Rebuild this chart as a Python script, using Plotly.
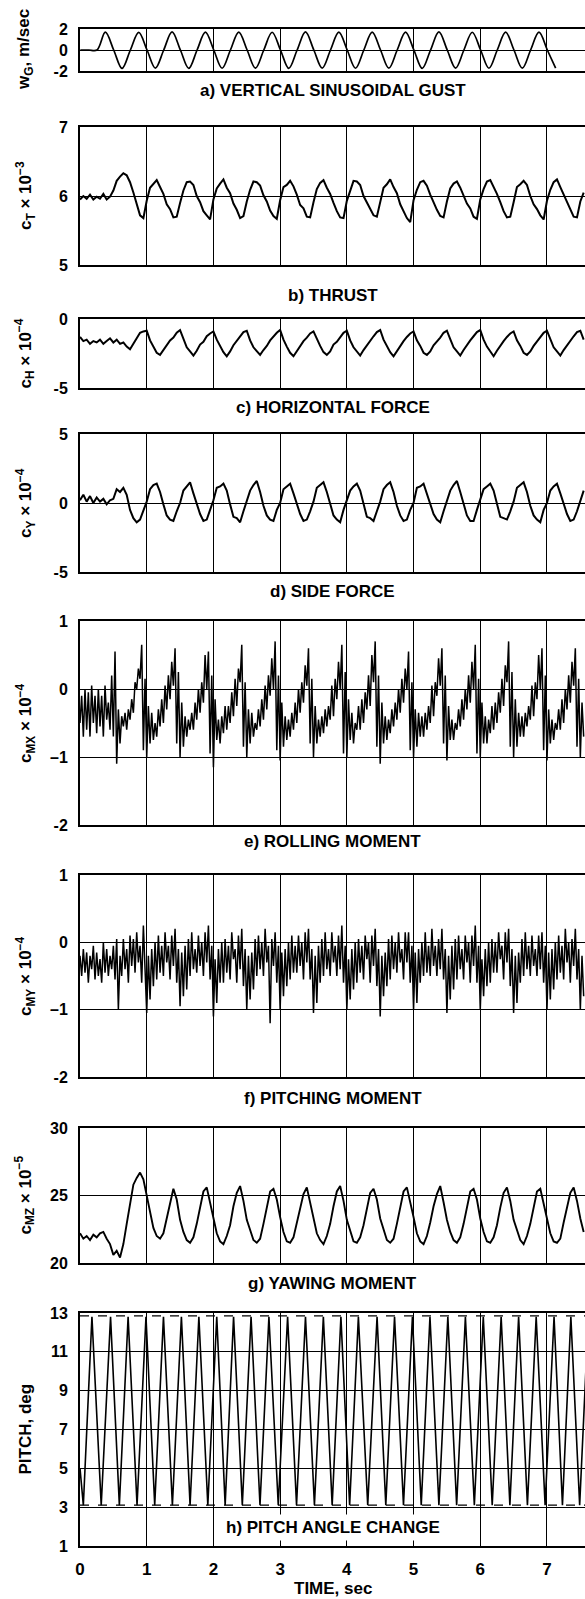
import numpy as np
import plotly.graph_objects as go

# ---------------- DATA ----------------
T_MAX = 7.57
DT_GUST = 0.125          # gust sampled every quarter period
GUST_T0 = 0.005
gust_w = [0, 0,
          0, 1.70, 0, -1.75, 0, 1.68, 0, -1.72, 0, 1.72, 0, -1.75, 0, 1.70, 0, -1.74,
          0, 1.71, 0, -1.73, 0, 1.69, 0, -1.75, 0, 1.72, 0, -1.72, 0, 1.70, 0, -1.74,
          0, 1.71, 0, -1.73, 0, 1.70, 0, -1.75, 0, 1.72, 0, -1.72, 0, 1.69, 0, -1.74,
          0, 1.71, 0, -1.73, 0, 1.70, 0, -1.72]

DT_MED = 0.05
ct_pre = [5.95, 6.00, 5.96, 6.02, 5.95, 5.99, 5.96, 6.03, 5.95, 5.99,
          6.08, 6.22, 6.28, 6.33, 6.30, 6.20, 6.05, 5.90, 5.72, 5.68]
ct_cycles = [
    [5.93, 6.12, 6.17, 6.23, 6.13, 6.03, 5.88, 5.81, 5.69, 5.70],
    [5.90, 6.08, 6.20, 6.21, 6.16, 6.00, 5.91, 5.78, 5.72, 5.66],
    [5.95, 6.11, 6.18, 6.24, 6.12, 6.04, 5.89, 5.80, 5.68, 5.71],
    [5.92, 6.09, 6.21, 6.20, 6.15, 6.01, 5.92, 5.79, 5.71, 5.67],
    [5.94, 6.13, 6.16, 6.22, 6.14, 6.02, 5.87, 5.82, 5.70, 5.69],
    [5.91, 6.10, 6.19, 6.23, 6.12, 6.03, 5.90, 5.78, 5.69, 5.68],
    [5.93, 6.08, 6.22, 6.21, 6.16, 6.00, 5.91, 5.81, 5.72, 5.70],
    [5.90, 6.12, 6.17, 6.24, 6.13, 6.04, 5.88, 5.79, 5.68, 5.62],
    [5.94, 6.09, 6.20, 6.22, 6.15, 6.02, 5.90, 5.80, 5.71, 5.69],
    [5.92, 6.11, 6.18, 6.21, 6.12, 6.01, 5.89, 5.82, 5.70, 5.67],
    [5.95, 6.10, 6.21, 6.23, 6.14, 6.03, 5.91, 5.78, 5.69, 5.70],
    [5.91, 6.13, 6.17, 6.22, 6.16, 6.00, 5.88, 5.81, 5.72, 5.66],
    [5.93, 6.09, 6.20, 6.24, 6.13, 6.02, 5.90, 5.79, 5.70, 5.69]]
ct_end = [5.92, 6.05]

ch_pre = [-1.3, -1.6, -1.5, -1.8, -1.6, -1.7, -1.5, -1.8, -1.6, -1.4,
          -1.7, -1.5, -1.8, -1.7, -2.0, -2.2, -1.8, -1.4, -1.0, -0.9]
ch_cycles = [
    [-0.85, -1.55, -2.0, -2.45, -2.6, -2.25, -1.95, -1.55, -1.35, -1.0],
    [-0.8, -1.45, -2.05, -2.35, -2.65, -2.3, -1.85, -1.65, -1.25, -1.05],
    [-0.9, -1.5, -1.95, -2.4, -2.7, -2.35, -1.9, -1.6, -1.3, -0.95],
    [-0.85, -1.55, -2.05, -2.3, -2.6, -2.25, -1.95, -1.55, -1.25, -1.0],
    [-0.8, -1.5, -2.0, -2.45, -2.7, -2.3, -1.9, -1.6, -1.35, -1.05],
    [-0.9, -1.45, -1.95, -2.4, -2.6, -2.35, -1.85, -1.65, -1.3, -1.0],
    [-0.85, -1.55, -2.05, -2.35, -2.65, -2.25, -1.9, -1.55, -1.25, -0.95],
    [-0.8, -1.5, -2.0, -2.4, -2.7, -2.3, -1.95, -1.6, -1.3, -1.05],
    [-0.9, -1.55, -1.95, -2.45, -2.6, -2.35, -1.9, -1.65, -1.35, -1.0],
    [-0.85, -1.45, -2.05, -2.35, -2.65, -2.25, -1.85, -1.55, -1.25, -0.95],
    [-0.8, -1.5, -2.0, -2.4, -2.7, -2.3, -1.9, -1.6, -1.3, -1.05],
    [-0.9, -1.55, -1.95, -2.45, -2.6, -2.35, -1.95, -1.65, -1.35, -1.0],
    [-0.85, -1.5, -2.05, -2.35, -2.65, -2.25, -1.9, -1.55, -1.25, -0.95]]
ch_end = [-0.85, -1.5]

cy_pre = [0.2, 0.6, 0.1, 0.5, 0.0, 0.4, 0.1, 0.3, -0.1, 0.2,
          0.3, 1.0, 0.8, 1.1, 0.6, -0.5, -1.1, -1.4, -1.2, -0.6]
cy_cycles = [
    [0.1, 1.0, 1.3, 1.4, 0.8, -0.1, -0.9, -1.2, -1.3, -0.6],
    [0.0, 0.9, 1.2, 1.5, 0.7, 0.0, -0.8, -1.3, -1.2, -0.5],
    [0.2, 1.1, 1.2, 1.4, 0.9, -0.1, -1.0, -1.1, -1.4, -0.6],
    [0.1, 0.9, 1.3, 1.6, 0.8, -0.2, -0.9, -1.2, -1.3, -0.5],
    [0.0, 1.0, 1.2, 1.4, 0.7, 0.0, -0.8, -1.3, -1.2, -0.6],
    [0.1, 1.1, 1.3, 1.5, 0.8, -0.1, -0.9, -1.2, -1.4, -0.5],
    [0.2, 0.9, 1.2, 1.4, 0.9, -0.1, -1.0, -1.1, -1.3, -0.6],
    [0.1, 1.0, 1.3, 1.5, 0.8, -0.2, -0.9, -1.3, -1.2, -0.5],
    [0.0, 1.1, 1.2, 1.4, 0.7, 0.0, -0.8, -1.2, -1.4, -0.6],
    [0.1, 0.9, 1.3, 1.6, 0.8, -0.1, -0.9, -1.3, -1.3, -0.5],
    [0.2, 1.0, 1.2, 1.4, 0.9, -0.1, -1.0, -1.1, -1.2, -0.6],
    [0.1, 1.1, 1.3, 1.5, 0.8, -0.2, -0.9, -1.2, -1.4, -0.5],
    [0.0, 0.9, 1.2, 1.4, 0.7, 0.0, -0.8, -1.3, -1.2, -0.6]]
cy_end = [0.1, 0.9]

cmz_pre = [22.2, 21.8, 22.0, 21.7, 22.1, 21.9, 22.2, 22.3, 21.8, 21.4,
           20.6, 20.9, 20.4, 21.4, 22.9, 24.5, 25.8, 26.3,
           26.7, 26.2, 25.0, 23.6, 22.6, 22.0, 21.8, 22.2, 23.3, 24.5]
cmz_cycles = [
    [25.5, 24.7, 23.2, 22.3, 21.7, 21.5, 21.9, 22.9, 24.1, 25.3],
    [25.6, 24.5, 23.3, 22.2, 21.6, 21.4, 22.0, 22.8, 24.2, 25.2],
    [25.7, 24.6, 23.2, 22.4, 21.7, 21.5, 21.8, 22.9, 24.0, 25.3],
    [25.5, 24.7, 23.4, 22.3, 21.6, 21.5, 21.9, 23.0, 24.1, 25.1],
    [25.6, 24.5, 23.3, 22.2, 21.7, 21.4, 22.0, 22.9, 24.2, 25.3],
    [25.7, 24.6, 23.2, 22.3, 21.6, 21.5, 21.9, 22.8, 24.0, 25.2],
    [25.5, 24.7, 23.3, 22.4, 21.7, 21.5, 21.8, 22.9, 24.1, 25.3],
    [25.6, 24.6, 23.4, 22.2, 21.6, 21.4, 22.0, 23.0, 24.2, 25.1],
    [25.7, 24.5, 23.2, 22.3, 21.7, 21.5, 21.9, 22.9, 24.0, 25.3],
    [25.5, 24.7, 23.3, 22.3, 21.6, 21.5, 21.9, 22.8, 24.1, 25.2],
    [25.6, 24.6, 23.2, 22.4, 21.7, 21.4, 22.0, 22.9, 24.2, 25.3],
    [25.5, 24.5, 23.3, 22.2, 21.6, 21.5, 21.8, 23.0, 24.1, 25.2]]
cmz_end = [25.6, 24.6, 23.3, 22.3]

DT_FINE = 0.025
cmx_pre = [-0.5, -0.1, -0.7, 0.0, -0.6, -0.05, -0.7, 0.05, -0.5, -0.1,
           -0.65, 0.0, -0.55, -0.1, -0.7, 0.05, -0.45, -0.2, -0.6, 0.2,
           -0.7, 0.55, -1.1, -0.3, -0.8, -0.4, -0.55, -0.35, -0.6, -0.3,
           -0.45, -0.15, -0.35, 0.1, 0.0, 0.3, 0.15]
cmx_cycles = [
    [0.65, -0.9, 0.15, -1.0, -0.25, -0.8, -0.35, -0.75, -0.5, -0.7, -0.3, -0.55, -0.15, -0.5, 0.05, -0.3, 0.2, -0.15, 0.4, 0.05],
    [0.6, -0.8, 0.25, -1.0, -0.2, -0.85, -0.4, -0.7, -0.45, -0.6, -0.35, -0.6, -0.2, -0.45, 0.0, -0.35, 0.1, -0.2, 0.5, 0.0],
    [0.55, -0.95, 0.2, -1.15, -0.15, -0.75, -0.45, -0.8, -0.4, -0.65, -0.25, -0.6, -0.25, -0.5, -0.05, -0.4, 0.15, -0.25, 0.3, 0.1],
    [0.65, -0.85, 0.1, -1.0, -0.3, -0.8, -0.35, -0.7, -0.5, -0.6, -0.3, -0.55, -0.15, -0.45, 0.05, -0.3, 0.2, -0.1, 0.45, 0.0],
    [0.7, -0.9, 0.2, -1.05, -0.2, -0.85, -0.4, -0.75, -0.45, -0.7, -0.35, -0.6, -0.2, -0.5, 0.0, -0.35, 0.1, -0.2, 0.35, 0.05],
    [0.6, -0.8, 0.15, -1.0, -0.25, -0.8, -0.45, -0.7, -0.4, -0.65, -0.3, -0.55, -0.25, -0.45, 0.05, -0.4, 0.15, -0.15, 0.4, 0.0],
    [0.65, -0.95, 0.25, -1.0, -0.15, -0.75, -0.35, -0.8, -0.5, -0.6, -0.25, -0.6, -0.15, -0.5, -0.05, -0.3, 0.2, -0.25, 0.5, 0.1],
    [0.7, -0.85, 0.2, -1.1, -0.2, -0.8, -0.4, -0.75, -0.45, -0.65, -0.3, -0.55, -0.2, -0.45, 0.0, -0.35, 0.15, -0.2, 0.3, 0.0],
    [0.55, -0.9, 0.1, -1.0, -0.3, -0.85, -0.35, -0.7, -0.4, -0.7, -0.35, -0.6, -0.25, -0.5, 0.05, -0.4, 0.1, -0.1, 0.45, 0.05],
    [0.6, -0.8, 0.2, -1.05, -0.25, -0.75, -0.45, -0.75, -0.5, -0.6, -0.3, -0.55, -0.15, -0.45, 0.0, -0.3, 0.2, -0.2, 0.4, 0.0],
    [0.65, -0.95, 0.15, -1.0, -0.2, -0.8, -0.4, -0.8, -0.45, -0.65, -0.25, -0.6, -0.2, -0.5, -0.05, -0.35, 0.15, -0.25, 0.35, 0.1],
    [0.7, -0.85, 0.25, -1.0, -0.15, -0.85, -0.35, -0.7, -0.4, -0.7, -0.35, -0.55, -0.25, -0.45, 0.05, -0.4, 0.1, -0.15, 0.5, 0.0],
    [0.6, -0.9, 0.2, -1.05, -0.3, -0.8, -0.45, -0.75, -0.5, -0.6, -0.3, -0.6, -0.15, -0.5, 0.0, -0.3, 0.2, -0.2, 0.4, 0.05]]
cmx_end = [0.6, -0.85, 0.15, -1.0, -0.2, -0.7]

cmy_pre = [-0.2, -0.5, -0.1, -0.45, -0.15, -0.6, -0.2, -0.4, -0.05, -0.55,
           -0.15, -0.5, -0.25, -0.6, 0.0, -0.45, -0.1, -0.5, -0.2, -0.4,
           -0.05, -0.55, 0.05, -1.0, -0.2, -0.5, 0.05, -0.4, -0.1, -0.6,
           0.1, -0.35, 0.05, -0.45, 0.15, -0.3, -0.05, -0.6, 0.25, -0.4]
cmy_cycles = [
    [-1.05, -0.2, -0.85, -0.1, -0.65, 0.0, -0.55, 0.1, -0.45, -0.05, -0.5, 0.15, -0.3, -0.05, -0.55, 0.1, -0.35, 0.2, -0.6, -0.1],
    [-0.95, -0.15, -0.8, -0.05, -0.7, 0.05, -0.5, 0.15, -0.4, -0.1, -0.45, 0.1, -0.35, 0.0, -0.5, 0.15, -0.3, 0.25, -0.55, -0.05],
    [-1.1, -0.25, -0.9, -0.1, -0.6, 0.0, -0.6, 0.05, -0.45, -0.05, -0.55, 0.15, -0.25, -0.1, -0.6, 0.1, -0.4, 0.2, -0.65, -0.1],
    [-1.0, -0.2, -0.85, -0.15, -0.7, 0.05, -0.5, 0.1, -0.4, 0.0, -0.5, 0.2, -0.3, -0.05, -1.2, 0.05, -0.35, 0.15, -0.6, -0.05],
    [-1.0, -0.15, -0.8, -0.1, -0.65, 0.0, -0.55, 0.1, -0.45, -0.05, -0.45, 0.1, -0.35, 0.0, -0.55, 0.15, -0.3, 0.2, -0.55, -0.1],
    [-1.05, -0.2, -0.9, -0.05, -0.6, 0.05, -0.5, 0.15, -0.4, -0.1, -0.5, 0.15, -0.3, -0.05, -0.5, 0.1, -0.4, 0.25, -0.6, -0.05],
    [-1.0, -0.25, -0.85, -0.1, -0.7, 0.0, -0.6, 0.05, -0.45, -0.05, -0.55, 0.1, -0.25, 0.0, -0.6, 0.1, -0.35, 0.2, -0.65, -0.1],
    [-1.1, -0.2, -0.8, -0.15, -0.65, 0.05, -0.55, 0.1, -0.4, 0.0, -0.45, 0.15, -0.3, -0.1, -0.55, 0.15, -0.3, 0.15, -0.6, -0.05],
    [-1.0, -0.15, -0.9, -0.1, -0.6, 0.0, -0.5, 0.15, -0.45, -0.05, -0.5, 0.2, -0.35, -0.05, -0.5, 0.05, -0.4, 0.2, -0.55, -0.1],
    [-1.05, -0.2, -0.85, -0.05, -0.7, 0.05, -0.55, 0.1, -0.4, -0.1, -0.55, 0.1, -0.3, 0.0, -0.6, 0.1, -0.35, 0.25, -0.6, -0.05],
    [-1.0, -0.25, -0.8, -0.1, -0.65, 0.0, -0.6, 0.05, -0.45, 0.0, -0.45, 0.15, -0.25, -0.05, -0.55, 0.15, -0.3, 0.2, -0.65, -0.1],
    [-1.05, -0.2, -0.9, -0.15, -0.6, 0.05, -0.5, 0.15, -0.4, -0.05, -0.5, 0.1, -0.35, -0.1, -0.5, 0.1, -0.4, 0.15, -0.6, -0.05],
    [-1.0, -0.15, -0.85, -0.1, -0.7, 0.0, -0.55, 0.1, -0.45, -0.05, -0.55, 0.2, -0.3, 0.0, -0.6, 0.05, -0.35, 0.2, -0.55, -0.1]]
cmy_end = [-1.0, -0.2, -0.8]

pitch_t = [0.0, 0.05, 0.179, 0.318, 0.458, 0.59, 0.721, 0.855, 0.989, 1.12,
           1.251, 1.385, 1.520, 1.65, 1.782, 1.916, 2.050, 2.176, 2.302, 2.433,
           2.564, 2.698, 2.832, 2.972, 3.112, 3.246, 3.380, 3.514, 3.648, 3.78,
           3.911, 4.042, 4.173, 4.313, 4.453, 4.584, 4.715, 4.849, 4.983, 5.115,
           5.246, 5.38, 5.514, 5.646, 5.777, 5.911, 6.045, 6.179, 6.313, 6.444,
           6.575, 6.707, 6.838, 6.972, 7.106, 7.232, 7.358, 7.49, 7.6]
pitch_deg = [5.0, 3.1, 12.8, 3.1, 12.8, 3.1, 12.8, 3.1, 12.8, 3.1,
             12.8, 3.1, 12.8, 3.1, 12.8, 3.1, 12.8, 3.1, 12.8, 3.1,
             12.8, 3.1, 12.8, 3.1, 12.8, 3.1, 12.8, 3.1, 12.8, 3.1,
             12.8, 3.1, 12.8, 3.1, 12.8, 3.1, 12.8, 3.1, 12.8, 3.1,
             12.8, 3.1, 12.8, 3.1, 12.8, 3.1, 12.8, 3.1, 12.8, 3.1,
             12.8, 3.1, 12.8, 3.1, 12.8, 3.1, 12.8, 3.1, 11.3]
pitch_limits = [3.1, 12.85]

x_ticks = [0, 1, 2, 3, 4, 5, 6, 7]

# ---------------- assemble series ----------------
def join(pre, cycles, end):
    out = list(pre)
    for c in cycles:
        out += c
    return out + list(end)

ct = join(ct_pre, ct_cycles, ct_end)
ch = join(ch_pre, ch_cycles, ch_end)
cy = join(cy_pre, cy_cycles, cy_end)
cmz = join(cmz_pre, cmz_cycles, cmz_end)
cmx = join(cmx_pre, cmx_cycles, cmx_end)
cmy = join(cmy_pre, cmy_cycles, cmy_end)

def tgrid(n, dt, t0=0.0):
    return np.round(t0 + np.arange(n) * dt, 4)

W, H = 585, 1599
LM = 80
FONT = "Liberation Sans"

def py(px):
    return 1 - px / H

# panel: (x, y, shape, width, top_px, bottom_px, range, tickvals, ticktext, ytitle, title, title_px)
panels = [
    (tgrid(len(gust_w), DT_GUST, GUST_T0), gust_w, 'spline', 1.7, 29, 71, [-2, 2], [-2, 0, 2], ['-2', '0', '2'],
     'w<sub>G</sub>, m/sec', 'a) VERTICAL SINUSOIDAL GUST', 90),
    (tgrid(len(ct), DT_MED), ct, 'linear', 2.0, 127, 265, [5, 7], [5, 6, 7], ['5', '6', '7'],
     'c<sub>T</sub> × 10<sup>−3</sup>', 'b) THRUST', 295),
    (tgrid(len(ch), DT_MED), ch, 'linear', 2.0, 319, 388, [-5, 0], [-5, 0], ['-5', '0'],
     'c<sub>H</sub> × 10<sup>−4</sup>', 'c) HORIZONTAL FORCE', 408),
    (tgrid(len(cy), DT_MED), cy, 'linear', 2.0, 434, 572, [-5, 5], [-5, 0, 5], ['-5', '0', '5'],
     'c<sub>Y</sub> × 10<sup>−4</sup>', 'd) SIDE FORCE', 592),
    (tgrid(len(cmx), DT_FINE), cmx, 'linear', 1.5, 621, 825, [-2, 1], [-2, -1, 0, 1], ['-2', '–1', '0', '1'],
     'c<sub>MX</sub> × 10<sup>−4</sup>', 'e) ROLLING MOMENT', 841),
    (tgrid(len(cmy), DT_FINE), cmy, 'linear', 1.5, 875, 1077, [-2, 1], [-2, -1, 0, 1], ['-2', '–1', '0', '1'],
     'c<sub>MY</sub> × 10<sup>−4</sup>', 'f) PITCHING MOMENT', 1098),
    (tgrid(len(cmz), DT_MED), cmz, 'linear', 1.9, 1128, 1263, [20, 30], [20, 25, 30], ['20', '25', '30'],
     'c<sub>MZ</sub> × 10<sup>−5</sup>', 'g) YAWING MOMENT', 1283),
    (pitch_t, pitch_deg, 'linear', 1.6, 1313, 1546, [1, 13], [1, 3, 5, 7, 9, 11, 13],
     ['1', '3', '5', '7', '9', '11', '13'], 'PITCH, deg', None, None),
]

fig = go.Figure()
layout = dict(width=W, height=H, margin=dict(l=LM, r=0, t=0, b=0, autoexpand=False),
              paper_bgcolor='white', plot_bgcolor='white', showlegend=False)
annotations = []
tickfont = dict(family=FONT, size=16, color='black', weight='bold')
labfont = dict(family=FONT, size=17, color='black', weight='bold')

for i, (xs, ys, shape, lw, top, bot, yr, tv, tt, ytitle, title, title_px) in enumerate(panels, start=1):
    xa = 'x' if i == 1 else f'x{i}'
    ya = 'y' if i == 1 else f'y{i}'
    fig.add_trace(go.Scatter(x=xs, y=ys, mode='lines', xaxis=xa, yaxis=ya,
                             line=dict(color='black', width=lw, shape=shape),
                             hoverinfo='skip'))
    last = (i == len(panels))
    layout['xaxis' if i == 1 else f'xaxis{i}'] = dict(
        domain=[0, 1], anchor=ya, range=[0, T_MAX], tickvals=x_ticks,
        ticktext=[str(v) for v in x_ticks], showticklabels=last, ticks='',
        ticklabelstandoff=7, tickfont=dict(family=FONT, size=17, color='black', weight='bold'),
        showgrid=True, gridcolor='black', gridwidth=1.4, zeroline=False,
        showline=True, mirror=True, linecolor='black', linewidth=2)
    layout['yaxis' if i == 1 else f'yaxis{i}'] = dict(
        domain=[py(bot), py(top)], anchor=xa, range=yr, tickvals=tv, ticktext=tt,
        ticks='', ticklabelstandoff=7, tickfont=tickfont,
        showgrid=True, gridcolor='black', gridwidth=1.4, zeroline=False,
        showline=True, mirror=False, linecolor='black', linewidth=2)
    annotations.append(dict(text=ytitle, xref='paper', yref='paper',
                            x=(25 - LM) / (W - LM), y=py((top + bot) / 2),
                            xanchor='center', yanchor='middle', textangle=-90,
                            showarrow=False, font=labfont))
    if title:
        annotations.append(dict(text=title, xref='paper', yref='paper', x=0.5, y=py(title_px),
                                xanchor='center', yanchor='middle', showarrow=False, font=labfont))

# pitch limit dashed lines
for lim in pitch_limits:
    fig.add_trace(go.Scatter(x=[0, T_MAX], y=[lim, lim], mode='lines', xaxis='x8', yaxis='y8',
                             line=dict(color='black', width=1.3, dash='dash'), hoverinfo='skip'))

annotations.append(dict(text='h) PITCH ANGLE CHANGE', xref='paper', yref='paper', x=0.5, y=py(1527),
                        xanchor='center', yanchor='middle', showarrow=False, font=labfont,
                        bgcolor='white', borderpad=3))
annotations.append(dict(text='TIME, sec', xref='paper', yref='paper', x=0.5, y=py(1588),
                        xanchor='center', yanchor='middle', showarrow=False, font=labfont))

layout['annotations'] = annotations
fig.update_layout(**layout)
fig.write_html("out.html")
